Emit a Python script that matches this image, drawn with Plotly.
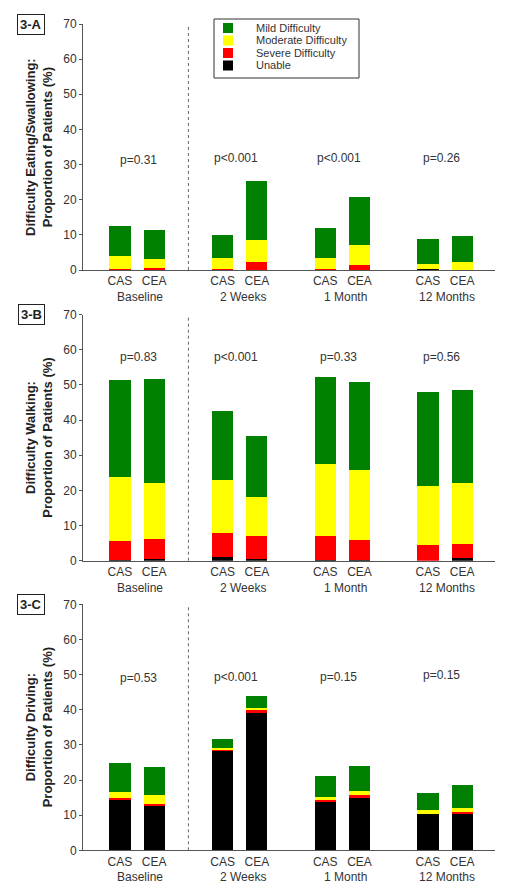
import plotly.graph_objects as go

# ---------------- data ----------------
groups = ["Baseline", "2 Weeks", "1 Month", "12 Months"]
arms = ["CAS", "CEA"]
bar_pos = [0, 1, 3, 4, 6, 7, 9, 10]
bar_labels = ["CAS", "CEA"] * 4
group_pos = [0.6, 3.6, 6.6, 9.55]

series = ["Unable", "Severe Difficulty", "Moderate Difficulty", "Mild Difficulty"]
colors = ["#000000", "#ff0000", "#ffff00", "#008000"]

# Panel 3-A: Eating/Swallowing (segments, bottom to top)
a_unable = [0.0, 0.2, 0.0, 0.0, 0.0, 0.0, 0.3, 0.0]
a_severe = [0.4, 0.5, 0.4, 2.3, 0.4, 1.3, 0.0, 0.0]
a_moderate = [3.7, 2.3, 3.1, 6.1, 2.9, 5.8, 1.4, 2.3]
a_mild = [8.5, 8.4, 6.4, 16.8, 8.7, 13.8, 7.0, 7.3]
a_p = ["p=0.31", "p<0.001", "p<0.001", "p=0.26"]
a_p_y = [31.3, 32.0, 32.0, 32.0]

# Panel 3-B: Walking
b_unable = [0.3, 0.7, 1.0, 0.7, 0.3, 0.3, 0.0, 0.8]
b_severe = [5.3, 5.6, 7.1, 6.4, 6.8, 5.6, 4.6, 4.1]
b_moderate = [18.4, 15.9, 15.0, 11.1, 20.6, 19.9, 16.7, 17.3]
b_mild = [27.6, 29.7, 19.6, 17.5, 24.8, 25.1, 26.9, 26.6]
b_p = ["p=0.83", "p<0.001", "p=0.33", "p=0.56"]
b_p_y = [58.0, 58.0, 58.0, 58.0]

# Panel 3-C: Driving
c_unable = [14.5, 12.7, 28.2, 39.1, 13.9, 14.9, 10.2, 10.3]
c_severe = [0.3, 0.4, 0.2, 0.7, 0.4, 0.7, 0.0, 0.4]
c_moderate = [1.7, 2.6, 0.7, 0.7, 0.7, 1.3, 1.3, 1.3]
c_mild = [8.3, 7.9, 2.5, 3.4, 6.2, 7.1, 4.7, 6.4]
c_p = ["p=0.53", "p<0.001", "p=0.15", "p=0.15"]
c_p_y = [49.0, 49.4, 49.4, 50.0]
p_x = [0.55, 3.4, 6.4, 9.4]

panel_names = ["3-A", "3-B", "3-C"]
y_titles = ["Difficulty Eating/Swallowing:", "Difficulty Walking:", "Difficulty Driving:"]
y_title2 = "Proportion of Patients (%)"
y_ticks = [0, 10, 20, 30, 40, 50, 60, 70]

panels = [
    ([a_unable, a_severe, a_moderate, a_mild], a_p, a_p_y),
    ([b_unable, b_severe, b_moderate, b_mild], b_p, b_p_y),
    ([c_unable, c_severe, c_moderate, c_mild], c_p, c_p_y),
]

# ---------------- layout helpers ----------------
OFF = 8  # page body margin of the browser
W, H = 512 - OFF, 892 - OFF
FONT = "Liberation Sans, Arial, sans-serif"
TXT = "#333333"


def px(x):
    return (x - OFF) / W


def py(y):
    return 1 - (y - OFF) / H


plot_top = [24.0, 314.7, 604.3]
plot_bot = [270.0, 560.7, 850.3]
x_left, x_right = 83.0, 495.0

fig = go.Figure()
annotations = []
shapes = []

for i, (segs, pvals, pys) in enumerate(panels):
    n = "" if i == 0 else str(i + 1)
    xa, ya = "x" + n, "y" + n
    for s, name, col in zip(segs, series, colors):
        fig.add_trace(go.Bar(
            x=bar_pos, y=s, name=name, marker=dict(color=col, line=dict(width=0)),
            width=0.62, xaxis=xa, yaxis=ya, showlegend=False,
        ))
    fig.layout["xaxis" + n] = dict(
        domain=[px(x_left), px(x_right)], anchor=ya, range=[-1.08, 10.96],
        tickvals=bar_pos, ticktext=bar_labels, ticks="", showgrid=False, zeroline=False,
        showline=True, linecolor="#555555", linewidth=1, automargin=False,
        tickfont=dict(family=FONT, size=12, color=TXT),
    )
    fig.layout["yaxis" + n] = dict(
        domain=[py(plot_bot[i]), py(plot_top[i])], anchor=xa, range=[0, 70],
        tickvals=y_ticks, ticks="outside", ticklen=3, tickcolor="#555555",
        showgrid=False, zeroline=False, showline=True, linecolor="#555555", linewidth=1,
        automargin=False, tickfont=dict(family=FONT, size=12, color=TXT),
    )
    # dotted separator after baseline
    shapes.append(dict(type="line", xref=xa, yref=ya + " domain", x0=2, x1=2, y0=0, y1=1,
                       line=dict(color="#666666", width=1, dash="dot")))
    # p-values
    for xv, t, yv in zip(p_x, pvals, pys):
        annotations.append(dict(x=xv, y=yv, xref=xa, yref=ya, text=t.replace("<", "&lt;"),
                                xanchor="center", yanchor="middle",
                                showarrow=False, font=dict(family=FONT, size=12, color=TXT)))
    # group labels
    for gx, g in zip(group_pos, groups):
        annotations.append(dict(x=gx, y=0, xref=xa, yref=ya + " domain", text=g,
                                xanchor="center", yanchor="middle", yshift=-27, showarrow=False,
                                font=dict(family=FONT, size=12, color=TXT)))
    # y-axis title (two lines)
    ymid = py((plot_top[i] + plot_bot[i]) / 2)
    annotations.append(dict(x=px(39), y=ymid, xref="paper", yref="paper",
                            text="<b>" + y_titles[i] + "<br>" + y_title2 + "</b>",
                            xanchor="center", yanchor="middle",
                            textangle=-90, showarrow=False,
                            font=dict(family=FONT, size=13, color="#222222")))
    # panel label box
    annotations.append(dict(x=px(31), y=py(plot_top[i]), xref="paper", yref="paper",
                            text="<b>" + panel_names[i] + "</b>", showarrow=False,
                            xanchor="center", yanchor="middle",
                            bordercolor="#222222", borderwidth=1, borderpad=2,
                            font=dict(family=FONT, size=13, color="#222222")))

# legend (panel A), listed top-down: reverse stacking order
shapes.append(dict(type="rect", xref="paper", yref="paper", x0=px(214), x1=px(359),
                   y0=py(78), y1=py(19), line=dict(color="#333333", width=1)))
row_y = [28, 40.5, 53, 65.5]
for k, (name, col) in enumerate(zip(series[::-1], colors[::-1])):
    yc = row_y[k]
    shapes.append(dict(type="rect", xref="paper", yref="paper", x0=px(223), x1=px(233),
                       y0=py(yc + 5), y1=py(yc - 5), fillcolor=col, line=dict(width=0)))
    annotations.append(dict(x=px(254), y=py(yc), xref="paper", yref="paper", text=name,
                            xanchor="left", yanchor="middle", showarrow=False,
                            font=dict(family=FONT, size=11, color=TXT)))

fig.update_layout(
    barmode="stack", bargap=0, width=W, height=H,
    margin=dict(l=0, r=0, t=0, b=0, autoexpand=False),
    plot_bgcolor="white", paper_bgcolor="white",
    annotations=annotations, shapes=shapes, showlegend=False,
)

fig.write_html("out.html")
